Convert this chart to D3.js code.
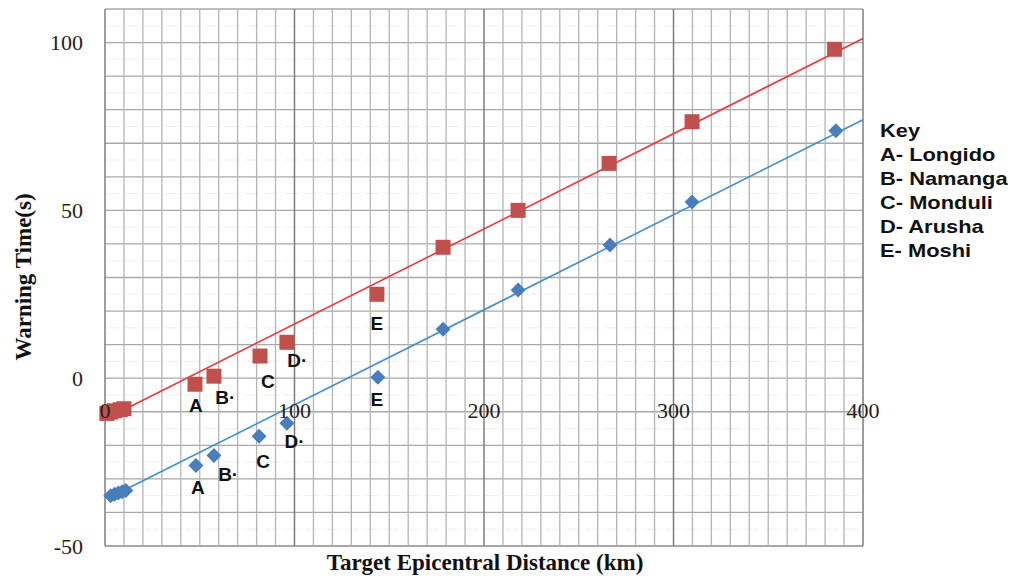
<!DOCTYPE html>
<html>
<head>
<meta charset="utf-8">
<script src="https://cdn.jsdelivr.net/npm/d3@7"></script>
<style>
	body { margin: 0; background: #fff; }
	svg { display: block; }
	.tick-label { font-family: "Liberation Serif", "Times New Roman", serif; font-size: 22px; fill: #222; }
	.axis-title { font-family: "Liberation Serif", "Times New Roman", serif; font-size: 23px; font-weight: bold; fill: #111; }
	.marker-label { font-family: "Liberation Sans", Arial, sans-serif; font-size: 19px; font-weight: bold; fill: #111; }
	.key { font-family: "Liberation Sans", Arial, sans-serif; font-size: 17.5px; font-weight: bold; fill: #111; }
</style>
</head>
<body>
<div id="graphic"></div>
<script>
// distance (km) vs warning time (s)
const redDistance = [1, 3, 5, 8, 10, 47.5, 57.5, 81.8, 96, 143.5, 178.4, 218, 266, 309.8, 385];
const redTime = [-10.5, -10.1, -9.7, -9.4, -9.1, -1.8, 0.6, 6.6, 10.7, 25, 39, 50, 64, 76.4, 98];
const blueDistance = [3, 5, 7, 9, 11, 48, 57.5, 81.3, 96, 144, 178.4, 218, 266.5, 309.8, 385.7];
const blueTime = [-35, -34.6, -34.2, -33.8, -33.5, -26, -23, -17.3, -13.4, 0.3, 14.6, 26.3, 39.7, 52.5, 73.7];

// trend lines (start and end)
const redTrend = [[4, -11.1], [400, 101.2]];
const blueTrend = [[4, -35.1], [400, 77]];

// station letters, placed in data space
const redLabels = [['A', 48, -8.2], ['B·', 63.5, -5.8], ['C', 86, -1], ['D·', 101.5, 5.3], ['E', 143.5, 16.3]];
const blueLabels = [['A', 49, -32.6], ['B·', 65, -28.8], ['C', 83.5, -24.8], ['D·', 100, -18.8], ['E', 143.5, -6.3]];

const keyTitle = 'Key';
const keyItems = ['A- Longido', 'B- Namanga', 'C- Monduli', 'D- Arusha', 'E- Moshi'];

const yTicks = [-50, 0, 50, 100];
const xTicks = [0, 100, 200, 300, 400];

const width = 1010, height = 576;
const margin = { top: 9, right: 147, bottom: 30, left: 105 };
const chartWidth = width - margin.left - margin.right;
const chartHeight = height - margin.top - margin.bottom;

const svg = d3.select('#graphic').append('svg')
	.attr('width', width)
	.attr('height', height);

const x = d3.scaleLinear().domain([0, 400]).range([margin.left, margin.left + chartWidth]);
const y = d3.scaleLinear().domain([-50, 110]).range([margin.top + chartHeight, margin.top]);

// faint in-between lines
svg.append('g')
	.selectAll('line')
	.data(d3.range(-45, 110, 10))
	.join('line')
	.attr('x1', x(0)).attr('x2', x(400))
	.attr('y1', d => y(d)).attr('y2', d => y(d))
	.attr('stroke', '#eeeeee')
	.attr('stroke-dasharray', '14,6')
	.attr('stroke-width', 1);

// grid
svg.append('g')
	.selectAll('line')
	.data(d3.range(-50, 111, 10))
	.join('line')
	.attr('x1', x(0)).attr('x2', x(400))
	.attr('y1', d => y(d)).attr('y2', d => y(d))
	.attr('stroke', d => d === -50 ? '#8a8a8a' : '#a8a8a8')
	.attr('stroke-width', 1.3);

svg.append('g')
	.selectAll('line')
	.data(d3.range(0, 401, 10))
	.join('line')
	.attr('x1', d => x(d)).attr('x2', d => x(d))
	.attr('y1', y(110)).attr('y2', y(-50))
	.attr('stroke', d => d % 100 === 0 ? '#7c7c7c' : '#b4b4b4')
	.attr('stroke-width', d => d % 100 === 0 ? 1.5 : 1.3);

// y tick labels
svg.append('g')
	.selectAll('text')
	.data(yTicks)
	.join('text')
	.attr('class', 'tick-label')
	.attr('x', x(0) - 22)
	.attr('y', d => y(d))
	.attr('dy', '0.35em')
	.attr('text-anchor', 'end')
	.text(d => d);

// trend lines
const line = d3.line().x(d => x(d[0])).y(d => y(d[1]));
svg.append('path').datum(redTrend).attr('d', line)
	.attr('fill', 'none').attr('stroke', '#e8383d').attr('stroke-width', 1.6);
svg.append('path').datum(blueTrend).attr('d', line)
	.attr('fill', 'none').attr('stroke', '#3f8fc9').attr('stroke-width', 1.6);

// red squares
svg.append('g')
	.selectAll('rect')
	.data(d3.zip(redDistance, redTime))
	.join('rect')
	.attr('x', d => x(d[0]) - 7.5)
	.attr('y', d => y(d[1]) - 7.5)
	.attr('width', 15)
	.attr('height', 15)
	.attr('fill', '#c0504d');

// blue diamonds
svg.append('g')
	.selectAll('path')
	.data(d3.zip(blueDistance, blueTime))
	.join('path')
	.attr('d', 'M0,-7.5L7.5,0L0,7.5L-7.5,0Z')
	.attr('transform', d => `translate(${x(d[0])},${y(d[1])})`)
	.attr('fill', '#4a7ebb');

// x tick labels sit over the plot, level with the -10 gridline
svg.append('g')
	.selectAll('text')
	.data(xTicks)
	.join('text')
	.attr('class', 'tick-label')
	.attr('x', d => x(d))
	.attr('y', y(-9.6))
	.attr('dy', '0.35em')
	.attr('text-anchor', 'middle')
	.text(d => d);

// station letters
svg.append('g')
	.selectAll('text')
	.data(redLabels.concat(blueLabels))
	.join('text')
	.attr('class', 'marker-label')
	.attr('x', d => x(d[1]))
	.attr('y', d => y(d[2]))
	.attr('dy', '0.35em')
	.attr('text-anchor', 'middle')
	.text(d => d[0]);

// axis titles
svg.append('text')
	.attr('class', 'axis-title')
	.attr('x', 485)
	.attr('y', 570)
	.attr('text-anchor', 'middle')
	.text('Target Epicentral Distance (km)');

svg.append('text')
	.attr('class', 'axis-title')
	.attr('transform', `translate(31, ${277}) rotate(-90)`)
	.attr('text-anchor', 'middle')
	.text('Warning Time(s)');

// key
const key = svg.append('g').attr('transform', 'translate(880, 137) scale(1.25, 1)');
key.append('text').attr('class', 'key').attr('x', 0).attr('y', 0).text(keyTitle);
key.selectAll('text.item')
	.data(keyItems)
	.join('text')
	.attr('class', 'key item')
	.attr('x', 0)
	.attr('y', (d, i) => 24 * (i + 1))
	.text(d => d);
</script>
</body>
</html>
